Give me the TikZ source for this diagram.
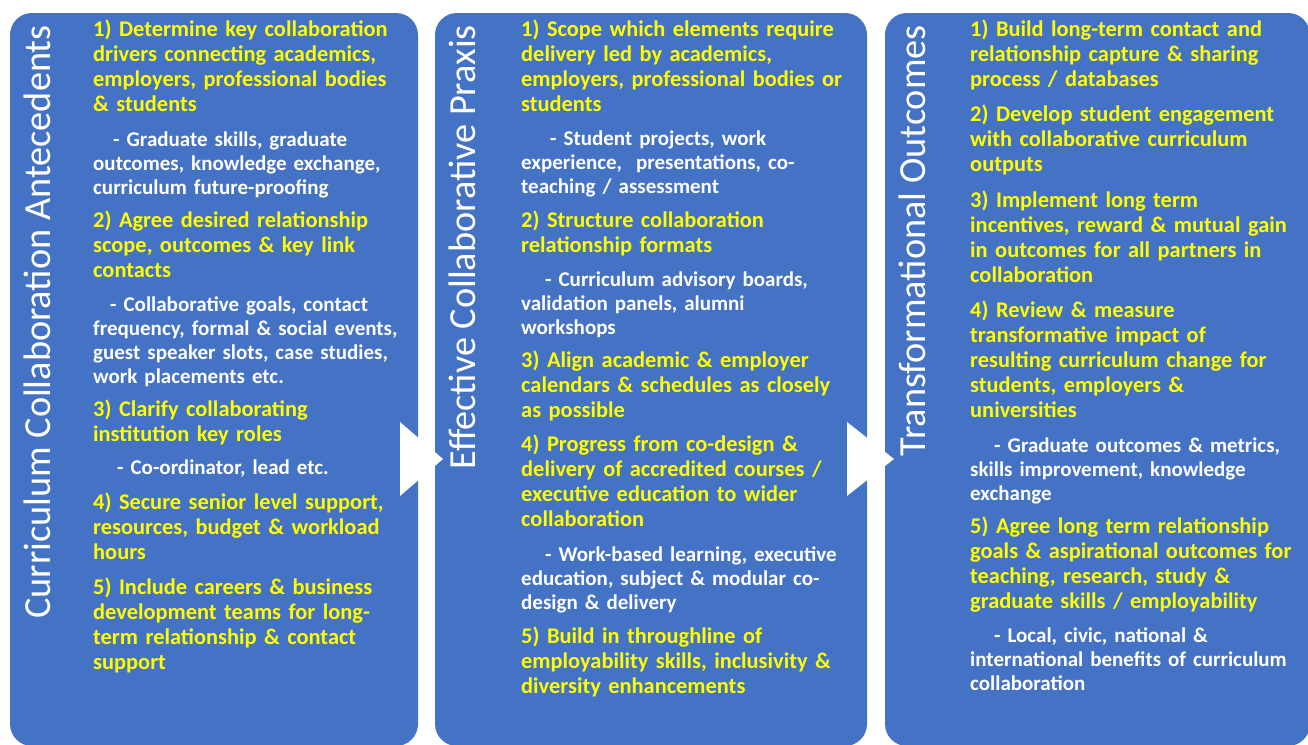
\documentclass[tikz,border=0pt]{standalone}
\usepackage{fontspec}
\setmainfont{Carlito}
\definecolor{panelblue}{HTML}{4472C4}
\definecolor{itemyellow}{HTML}{FFFF00}
\tikzset{
  panel/.style={fill=panelblue, rounded corners=22pt},
  pointer/.style={fill=white},
  title/.style={rotate=90, anchor=base east, inner sep=0pt, text=white,
    font=\fontsize{38.3}{42}\selectfont},
  item/.style={anchor=base west, inner sep=0pt, text width=360pt, align=left,
    text=itemyellow, font=\bfseries\fontsize{22.4}{25}\selectfont},
  detail/.style={item, text=white, font=\bfseries\fontsize{21}{24}\selectfont}
}
\begin{document}
\begin{tikzpicture}[x=1pt, y=-1pt]
\useasboundingbox[fill=white] (0,0) rectangle (1308,744);
% the three stages
\fill[panel] (10,13) rectangle (418,746);
\fill[panel] (435,13) rectangle (867,746);
\fill[panel] (885,13) rectangle (1310,746);
\node[title] (t1) at (50,25) {Curriculum Collaboration Antecedents};
\node[title] (t2) at (475,25) {Effective Collaborative Praxis};
\node[title] (t3) at (925,25) {Transformational Outcomes};
% arrows between stages
\fill[pointer] (400,422) -- (443,459) -- (400,496) -- cycle;
\fill[pointer] (847,422) -- (894,459) -- (847,496) -- cycle;
% antecedents
\node[item] (a1) at (93,36.5) {1) Determine key collaboration\\drivers connecting academics,\\employers, professional bodies\\\& students};
\node[detail] (a1d) at (93,146) {\hspace*{20pt}- Graduate skills, graduate\\outcomes, knowledge exchange,\\curriculum future-proofing};
\node[item] (a2) at (93,227.5) {2) Agree desired relationship\\scope, outcomes \& key link\\contacts};
\node[detail] (a2d) at (93,311.5) {\hspace*{17pt}- Collaborative goals, contact\\frequency, formal \& social events,\\guest speaker slots, case studies,\\work placements etc.};
\node[item] (a3) at (93,416.5) {3) Clarify collaborating\\institution key roles};
\node[detail] (a3d) at (93,474.5) {\hspace*{24pt}- Co-ordinator, lead etc.};
\node[item] (a4) at (93,509.5) {4) Secure senior level support,\\resources, budget \& workload\\hours};
\node[item] (a5) at (93,594.5) {5) Include careers \& business\\development teams for long-\\term relationship \& contact\\support};
% praxis
\node[item] (b1) at (521,36.5) {1) Scope which elements require\\delivery led by academics,\\employers, professional bodies or\\students};
\node[detail] (b1d) at (521,145.5) {\hspace*{29pt}- Student projects, work\\experience,\ \ presentations, co-\\teaching / assessment};
\node[item] (b2) at (521,227.5) {2) Structure collaboration\\relationship formats};
\node[detail] (b2d) at (521,286.5) {\hspace*{24pt}- Curriculum advisory boards,\\validation panels, alumni\\workshops};
\node[item] (b3) at (521,367.5) {3) Align academic \& employer\\calendars \& schedules as closely\\as possible};
\node[item] (b4) at (521,451.5) {4) Progress from co-design \&\\delivery of accredited courses /\\executive education to wider\\collaboration};
\node[detail] (b4d) at (521,561.5) {\hspace*{24pt}- Work-based learning, executive\\education, subject \& modular co-\\design \& delivery};
\node[item] (b5) at (521,643.5) {5) Build in throughline of\\employability skills, inclusivity \&\\diversity enhancements};
% outcomes
\node[item] (c1) at (970,36.5) {1) Build long-term contact and\\relationship capture \& sharing\\process / databases};
\node[item] (c2) at (970,121.5) {2) Develop student engagement\\with collaborative curriculum\\outputs};
\node[item] (c3) at (970,207.5) {3) Implement long term\\incentives, reward \& mutual gain\\in outcomes for all partners in\\collaboration};
\node[item] (c4) at (970,317.5) {4) Review \& measure\\transformative impact of\\resulting curriculum change for\\students, employers \&\\universities};
\node[detail] (c4d) at (970,452.5) {\hspace*{24pt}- Graduate outcomes \& metrics,\\skills improvement, knowledge\\exchange};
\node[item] (c5) at (970,533.5) {5) Agree long term relationship\\goals \& aspirational outcomes for\\teaching, research, study \&\\graduate skills / employability};
\node[detail] (c5d) at (970,642.5) {\hspace*{24pt}- Local, civic, national \&\\international benefits of curriculum\\collaboration};
\end{tikzpicture}
\end{document}
